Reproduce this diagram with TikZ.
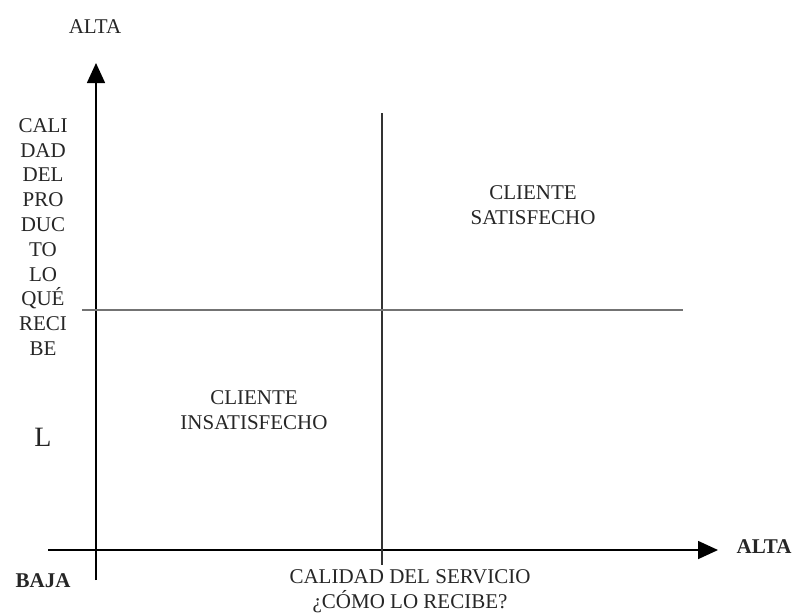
\documentclass[tikz,border=0pt]{standalone}
\usepackage{fontspec}
\setmainfont{Liberation Serif}
\usetikzlibrary{arrows.meta}

\begin{document}
\begin{tikzpicture}[%
x=0.5pt, y=-0.5pt,
lbl/.style={font=\fontsize{10.5}{12.4}\selectfont, text=black!85, align=center, inner sep=0pt},
axis/.style={line width=0.8pt, -{Triangle[length=10pt,width=9pt]}},
]
\useasboundingbox (0,0) rectangle (795,612);
%% axes;
\coordinate (xstart) at (48,550);
\coordinate (xend) at (718,550);
\coordinate (ystart) at (96,580);
\coordinate (yend) at (96,63);
\draw[axis] (xstart) -- (xend);
\draw[axis] (ystart) -- (yend);
%% quadrant lines;
\coordinate (midtop) at (382,113);
\coordinate (midbot) at (382,565);
\coordinate (midleft) at (82,310);
\coordinate (midright) at (683,310);
\draw[line width=0.7pt, black!80] (midtop) -- (midbot);
\draw[line width=1pt, black!55] (midleft) -- (midright);
%% label;
\node[lbl] (altay) at (95,27) {ALTA};
%% label;
\node[lbl] (altax) at (764,547) {\textbf{ALTA}};
%% label;
\node[lbl] (baja) at (43,581) {\textbf{BAJA}};
%% label;
\node[lbl] (producto) at (43,237) {CALI\\DAD\\DEL\\PRO\\DUC\\TO\\LO\\QUÉ\\RECI\\BE};
%% label;
\node[lbl, font=\fontsize{14}{16}\selectfont] (ele) at (43,437) {L};
%% label;
\node[lbl] (servicio) at (410,591) {CALIDAD DEL SERVICIO\\¿CÓMO LO RECIBE?};
%% quadrant;
\node[lbl] (satisf) at (533,205) {CLIENTE\\SATISFECHO};
%% quadrant;
\node[lbl] (insatisf) at (254,410) {CLIENTE\\INSATISFECHO};
\end{tikzpicture}
\end{document}
